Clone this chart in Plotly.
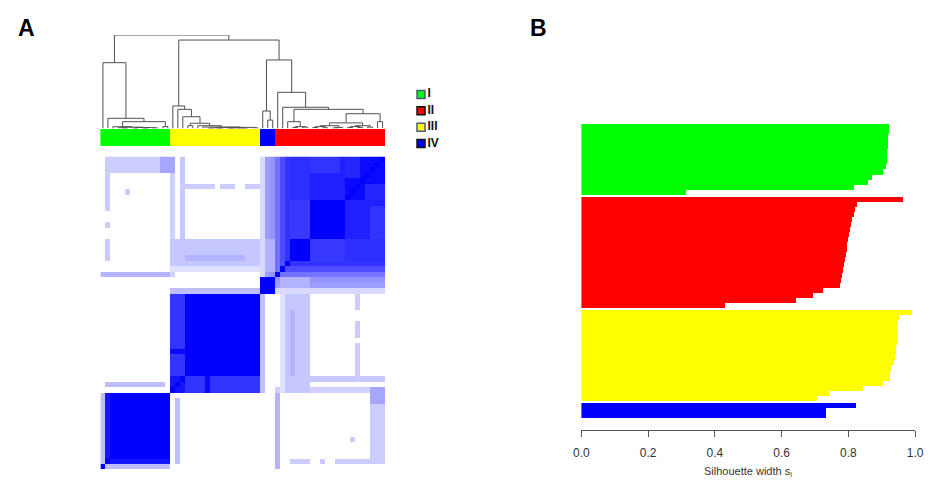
import numpy as np
import plotly.graph_objects as go

# the page body keeps its default 8px margin, so the figure is sized to fit the window
OFF = 8
W, H = 933 - OFF, 480 - OFF

# ---------------- data ----------------
cluster_names = ["I", "II", "III", "IV"]
cluster_colors = ["#00FF00", "#FF0000", "#FFFF00", "#0000FF"]
legend_border = ["#4a5a78", "#111111", "#4a5a78", "#111111"]

# cluster of each leaf in heatmap / dendrogram order (left -> right)
leaf_cluster = [0] * 14 + [2] * 18 + [3] * 3 + [1] * 22

# silhouette widths (sorted inside each cluster, top -> bottom)
sil_I = [0.924, 0.922, 0.921, 0.920, 0.919, 0.918, 0.917, 0.916, 0.915,
         0.905, 0.873, 0.859, 0.817, 0.314]
sil_II = [0.964, 0.827, 0.822, 0.817, 0.812, 0.809, 0.806, 0.803, 0.800,
          0.798, 0.796, 0.793, 0.790, 0.787, 0.785, 0.782, 0.779, 0.775,
          0.725, 0.694, 0.645, 0.430]
sil_III = [0.993, 0.952, 0.950, 0.948, 0.947, 0.946, 0.946, 0.945, 0.944,
           0.942, 0.937, 0.930, 0.926, 0.925, 0.904, 0.845, 0.742, 0.708]
sil_IV = [0.825, 0.735, 0.733]
sil_values = [sil_I, sil_II, sil_III, sil_IV]

sil_ticks = [0.0, 0.2, 0.4, 0.6, 0.8, 1.0]
sil_ticktext = ["0.0", "0.2", "0.4", "0.6", "0.8", "1.0"]

# consensus matrix, read as blocks: (row_from, row_to, col_from, col_to, value), mirrored
consensus_patches = [
    # cluster I
    (1, 13, 1, 13, 1.00),
    (0, 0, 1, 13, 0.25),
    (1, 1, 2, 13, 0.92),
    # cluster III
    (14, 31, 14, 31, 1.00),
    (14, 16, 14, 16, 0.92),
    (14, 16, 17, 31, 0.80),
    (14, 16, 21, 21, 0.97),
    # cluster IV
    (32, 34, 32, 34, 1.00),
    # cluster II
    (35, 56, 35, 56, 0.93),
    (35, 35, 36, 56, 0.55),
    (36, 36, 37, 56, 0.70),
    (37, 37, 38, 56, 0.80),
    (38, 41, 38, 41, 1.00),
    (42, 48, 42, 48, 1.00),
    (49, 56, 49, 56, 0.96),
    (38, 41, 42, 48, 0.78),
    (38, 41, 49, 56, 0.82),
    (42, 48, 49, 56, 0.88),
    (53, 56, 49, 51, 0.85),
    (42, 47, 54, 56, 0.80),
    # IV vs II
    (32, 32, 35, 56, 0.15),
    (33, 33, 35, 56, 0.38),
    (34, 34, 35, 56, 0.42),
    (33, 34, 36, 41, 0.30),
    # IV vs III
    (32, 32, 14, 31, 0.25),
    # I vs III
    (15, 15, 1, 12, 0.25),
    # I vs II
    (35, 35, 0, 13, 0.30),
    (54, 56, 1, 11, 0.20),
    (54, 56, 12, 14, 0.35),
    (47, 53, 1, 1, 0.20),
    (38, 41, 1, 1, 0.20),
    (44, 44, 1, 1, 0.20),
    (50, 50, 5, 5, 0.20),
    # III vs II
    (14, 14, 35, 53, 0.18),
    (36, 36, 14, 31, 0.12),
    (37, 41, 14, 31, 0.22),
    (38, 38, 17, 28, 0.30),
    (42, 56, 16, 16, 0.22),
    (48, 53, 14, 14, 0.18),
    (51, 51, 16, 22, 0.20),
    (51, 51, 24, 26, 0.20),
    (51, 51, 29, 31, 0.20),
]

# dendrogram: (left, right, height); ints are leaves
dendro_tree = (
    (0, (1, ((2, ((3, (4, 5, 0.004), 0.008),
                  ((6, 7, 0.003), ((8, 9, 0.002), (10, 11, 0.006), 0.009), 0.011), 0.014), 0.019),
             (12, 13, 0.02), 0.073), 0.109), 0.704),
    ((14, (15, (16, ((17, 18, 0.03),
                     (19, (20, ((((21, 22, 0.004), (23, 24, 0.003), 0.006),
                                 ((25, 26, 0.002), (27, (28, 29, 0.003), 0.004), 0.005), 0.009),
                                (30, 31, 0.008), 0.012), 0.016), 0.03), 0.056), 0.126), 0.205), 0.241),
     ((32, (33, 34, 0.09), 0.187),
      (35, (36, ((37, ((38, 39, 0.01), (40, 41, 0.015), 0.02), 0.073),
                 (((((42, 43, 0.01), (44, 45, 0.008), 0.02), ((46, 47, 0.006), 48, 0.012), 0.03),
                   ((((49, 50, 0.01), (51, 52, 0.012), 0.02), (53, 54, 0.015), 0.03)), 0.06),
                  (55, 56, 0.073), 0.158), 0.205), 0.227), 0.387), 0.733), 0.946),
    1.0)

# ---------------- build ----------------
n = len(leaf_cluster)
M = np.zeros((n, n))
for r0, r1, c0, c1, v in consensus_patches:
    M[r0:r1 + 1, c0:c1 + 1] = v
    M[c0:c1 + 1, r0:r1 + 1] = v
np.fill_diagonal(M, 1.0)

dx, dy = [], []


def walk(node):
    if isinstance(node, int):
        return float(node), 0.0
    left, right, h = node
    xl, hl = walk(left)
    xr, hr = walk(right)
    dx.extend([xl, xl, xr, xr, None])
    dy.extend([hl, h, h, hr, None])
    return (xl + xr) / 2, h


walk(dendro_tree)


def px(x):
    return (x - OFF) / W


def py(y):
    return 1 - (y - OFF) / H


fig = go.Figure()

# heatmap
fig.add_trace(go.Heatmap(
    z=M, x=list(range(n)), y=list(range(n)),
    colorscale=[[0, "#FFFFFF"], [1, "#0000FF"]], zmin=0, zmax=1,
    showscale=False, hoverinfo="skip", xaxis="x", yaxis="y"))

# cluster colour bar
fig.add_trace(go.Bar(
    x=list(range(n)), y=[1] * n, width=[1] * n,
    marker=dict(color=[cluster_colors[c] for c in leaf_cluster], line=dict(width=0)),
    xaxis="x2", yaxis="y2", hoverinfo="skip", showlegend=False))

# dendrogram
fig.add_trace(go.Scatter(
    x=dx, y=dy, mode="lines", line=dict(color="#505050", width=1),
    xaxis="x3", yaxis="y3", hoverinfo="skip", showlegend=False))

# legend
fig.add_trace(go.Scatter(
    x=[0.1] * 4, y=list(range(4)), mode="markers",
    marker=dict(symbol="square", size=8, color=cluster_colors,
                line=dict(color=legend_border, width=1.5)),
    xaxis="x4", yaxis="y4", hoverinfo="skip", showlegend=False))
fig.add_trace(go.Scatter(
    x=[0.2] * 4, y=list(range(4)), mode="text",
    text=["<b>%s</b>" % s for s in cluster_names], textposition="middle right",
    textfont=dict(family="Liberation Sans, Arial", size=12, color="#111111"),
    xaxis="x4", yaxis="y4", hoverinfo="skip", showlegend=False))

# silhouette bars
gap = 0.4
pos = 0.0
for k, vals in enumerate(sil_values):
    ys = [pos + gap * k + i for i in range(len(vals))]
    pos += len(vals)
    fig.add_trace(go.Bar(
        x=vals, y=ys, orientation="h", width=[1] * len(vals),
        marker=dict(color=cluster_colors[k], line=dict(width=0)),
        xaxis="x5", yaxis="y5", hoverinfo="skip", showlegend=False))
ymax = pos - 0.5 + gap * (len(sil_values) - 1)

hide = dict(visible=False, showgrid=False, zeroline=False, fixedrange=True)

fig.update_layout(
    width=W, height=H, margin=dict(l=0, r=0, t=0, b=0),
    paper_bgcolor="white", plot_bgcolor="white", showlegend=False, bargap=0,
    font=dict(family="Liberation Sans, Arial", color="#333333"),
    xaxis=dict(domain=[px(94), px(384)], range=[-0.5, n - 0.5], anchor="y", **hide),
    yaxis=dict(domain=[py(469), py(156.5)], range=[-0.5, n - 0.5], anchor="x", **hide),
    xaxis2=dict(domain=[px(94), px(384)], range=[-0.5, n - 0.5], anchor="y2", **hide),
    yaxis2=dict(domain=[py(146), py(129)], range=[0, 1], anchor="x2", **hide),
    xaxis3=dict(domain=[px(94), px(384)], range=[-0.5, n - 0.5], anchor="y3", **hide),
    yaxis3=dict(domain=[py(128.5), py(35)], range=[0, 1], anchor="x3", **hide),
    xaxis4=dict(domain=[px(414), px(480)], range=[0, 1], anchor="y4", **hide),
    yaxis4=dict(domain=[py(151), py(87)], range=[3.45, -0.45], anchor="x4", **hide),
    xaxis5=dict(domain=[px(584), px(924)], range=[0, 1], anchor="free", position=py(430),
                showline=True, linecolor="#555555", linewidth=1, ticks="outside",
                ticklen=6, tickcolor="#555555", tickvals=sil_ticks, ticktext=sil_ticktext,
                tickfont=dict(size=12, color="#333333"), ticklabelstandoff=6,
                showgrid=False, zeroline=False, fixedrange=True),
    yaxis5=dict(domain=[py(418), py(124)], range=[ymax, -0.5], anchor="x5", **hide),
    annotations=[
        dict(text="<b>A</b>", x=px(19), y=py(28), xref="paper", yref="paper",
             xanchor="center", yanchor="middle",
             showarrow=False, font=dict(size=23, color="black")),
        dict(text="<b>B</b>", x=px(540), y=py(28), xref="paper", yref="paper",
             xanchor="center", yanchor="middle",
             showarrow=False, font=dict(size=23, color="black")),
        dict(text="Silhouette width s<sub>i</sub>", x=px(754), y=py(472), xref="paper",
             yref="paper", xanchor="center", yanchor="middle",
             showarrow=False, font=dict(size=11, color="#333333")),
    ],
)

fig.write_html("out.html")
